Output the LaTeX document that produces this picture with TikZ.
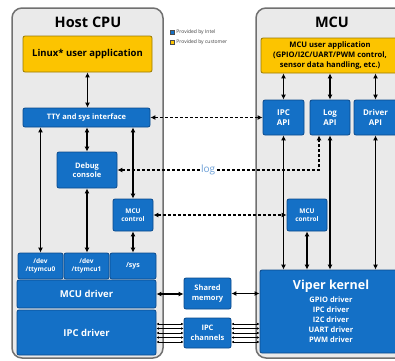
\documentclass[tikz,border=0pt]{standalone}
\usepackage{fontspec}
\setmainfont{Open Sans}
\usetikzlibrary{arrows.meta,calc,positioning}

\definecolor{intelblue}{HTML}{1470C6}
\definecolor{intelblueedge}{HTML}{0B4A8C}
\definecolor{custyellow}{HTML}{FCC400}
\definecolor{custyellowedge}{HTML}{9A7A00}
\definecolor{panelgray}{HTML}{EAEAEA}
\definecolor{paneledge}{HTML}{707070}
\definecolor{logblue}{HTML}{6A9ED6}

\begin{document}
\begin{tikzpicture}[x=1pt, y=-1pt,
    intel/.style={draw=intelblueedge, fill=intelblue, text=white, line width=0.8pt,
      rounded corners=2pt, inner sep=0pt, align=center, font=\bfseries\fontsize{7}{8.5}\selectfont},
    customer/.style={intel, draw=custyellowedge, fill=custyellow, text=black},
    panel/.style={draw=paneledge, fill=panelgray, line width=1.5pt, rounded corners=10pt, inner sep=0pt},
    paneltitle/.style={font=\bfseries\fontsize{14.5}{16}\selectfont},
    legkey/.style={draw=black!70, line width=0.4pt, minimum size=4pt, inner sep=0pt},
    legtext/.style={font=\fontsize{5}{6}\selectfont, text=black!75, inner sep=1pt},
    logtag/.style={fill=white, text=logblue, font=\fontsize{10}{11}\selectfont, inner sep=1pt},
    link/.style={{Latex[length=5pt,width=5pt]}-{Latex[length=5pt,width=5pt]}, line width=1.6pt},
    dashlink/.style={link, line width=1.4pt, dash pattern=on 3pt off 2pt},
    wire/.style={{Latex[length=2.5pt,width=2.5pt]}-{Latex[length=2.5pt,width=2.5pt]}, line width=0.7pt}]
              \newcommand{\hwbox}[7]
              {%
                \node[#2, minimum width={(#5-#3)*1pt}, minimum height={(#6-#4)*1pt}]
                  (#1) at ({(#3+#5)/2}, {(#4+#6)/2}) {#7};%
              }%
              \clip (0,0) rectangle (395,360);
              \hwbox{host}{panel}{12}{8}{163}{358}{}
              \hwbox{mcu}{panel}{256}{8}{410}{358}{}
              \node[paneltitle] (hosttitle) at (88,22) {Host CPU};
              \node[paneltitle] (mcutitle) at (332,22) {MCU};
              \node[legkey, fill=intelblue] (keyintel) at (172,32) {};
              \node[legtext, right=1pt of keyintel] (legintel) {Provided by Intel};
              \node[legkey, fill=custyellow] (keycust) at (172,42) {};
              \node[legtext, right=1pt of keycust] (legcust) {Provided by customer};
              \hwbox{linux}{customer, font=\bfseries\fontsize{9.5}{11}\selectfont}{23}{36}{152}{72}{Linux* user application}
              \hwbox{tty}{intel, font=\bfseries\fontsize{7.5}{9}\selectfont}{23}{108}{150}{127}{TTY and sys interface}
              \hwbox{debug}{intel, font=\bfseries\fontsize{7.5}{9.5}\selectfont}{57}{152}{117}{188}{Debug\\console}
              \hwbox{hostctl}{intel, font=\bfseries\fontsize{6.5}{8.5}\selectfont}{113}{199}{153}{231}{MCU\\control}
              \hwbox{ttymcu0}{intel, font=\bfseries\fontsize{6.5}{8}\selectfont}{18}{253}{63}{279}{/dev\\/ttymcu0}
              \hwbox{ttymcu1}{intel, font=\bfseries\fontsize{6.5}{8}\selectfont}{64}{253}{109}{279}{/dev\\/ttymcu1}
              \hwbox{sys}{intel}{110}{253}{156}{279}{/sys}
              \hwbox{mcudrv}{intel, font=\bfseries\fontsize{9.5}{11}\selectfont}{17}{280}{156}{308}{MCU driver}
              \hwbox{ipcdrv}{intel, font=\bfseries\fontsize{9.5}{11}\selectfont}{17}{310}{156}{355}{IPC driver}
              \hwbox{shmem}{intel, font=\bfseries\fontsize{7.5}{10}\selectfont}{184}{278}{231}{309}{Shared\\memory}
              \hwbox{ipcch}{intel, font=\bfseries\fontsize{7.5}{10}\selectfont}{184}{318}{231}{348}{IPC\\channels}
              \hwbox{mcuapp}{customer, font=\bfseries\fontsize{7.6}{10}\selectfont}{261}{38}{399}{73}{MCU user application\\(GPIO/I2C/UART/PWM control,\\sensor data handling, etc.)}
              \hwbox{ipcapi}{intel, font=\bfseries\fontsize{8}{10}\selectfont}{263}{100}{304}{135}{IPC\\API}
              \hwbox{logapi}{intel, font=\bfseries\fontsize{8}{10}\selectfont}{310}{100}{350}{135}{Log\\API}
              \hwbox{drvapi}{intel, font=\bfseries\fontsize{8}{10}\selectfont}{354}{100}{397}{135}{Driver\\API}
              \hwbox{mcuctl}{intel, font=\bfseries\fontsize{6.5}{8.5}\selectfont}{287}{199}{327}{231}{MCU\\control}
              \hwbox{kernel}{intel, font=\bfseries\fontsize{7.5}{10}\selectfont}{260}{270}{402}{353}{{\fontsize{12.5}{14}\selectfont Viper kernel}\\[3pt]GPIO driver\\IPC driver\\I2C driver\\UART driver\\PWM driver}
              \draw[link] (linux.south) -- (linux.south |- tty.north);
              \draw[link] (debug.north) -- (debug.north |- tty.south);
              \draw[link] (ttymcu0.north) -- (ttymcu0.north |- tty.south);
              \draw[link] (hostctl.north) -- (hostctl.north |- tty.south);
              \draw[link] (debug.south) -- (debug.south |- ttymcu1.north);
              \draw[link] (hostctl.south) -- (hostctl.south |- sys.north);
              \foreach \api in {ipcapi, logapi, drvapi}
              {
                \draw[link] (\api.north) -- (\api.north |- mcuapp.south);
                \draw[link] (\api.south) -- (\api.south |- kernel.north);
              }
              \draw[link] (mcuctl.south) -- (mcuctl.south |- kernel.north);
              \draw[dashlink] (tty.east) -- (ipcapi.west);
              \draw[dashlink] (hostctl.east) -- (mcuctl.west);
              \coordinate (logdrop) at ($(logapi.south)+(-11,0)$);
              \draw[dashlink] (debug.east) -- node[logtag, pos=0.45] {log} (debug.east -| logdrop) -- (logdrop);
              \draw[link] (mcudrv.east) -- (mcudrv.east -| shmem.west);
              \draw[link] (shmem.east) -- (shmem.east -| kernel.west);
              \foreach \dy in {-9, -4.5, 0, 4.5, 9}
              {
                \coordinate (chin) at ($(ipcch.west)+(0,\dy)$);
                \coordinate (chout) at ($(ipcch.east)+(0,\dy)$);
                \draw[wire] (chin) -- (chin -| ipcdrv.east);
                \draw[wire] (chout) -- (chout -| kernel.west);
              }
\end{tikzpicture}
\end{document}
